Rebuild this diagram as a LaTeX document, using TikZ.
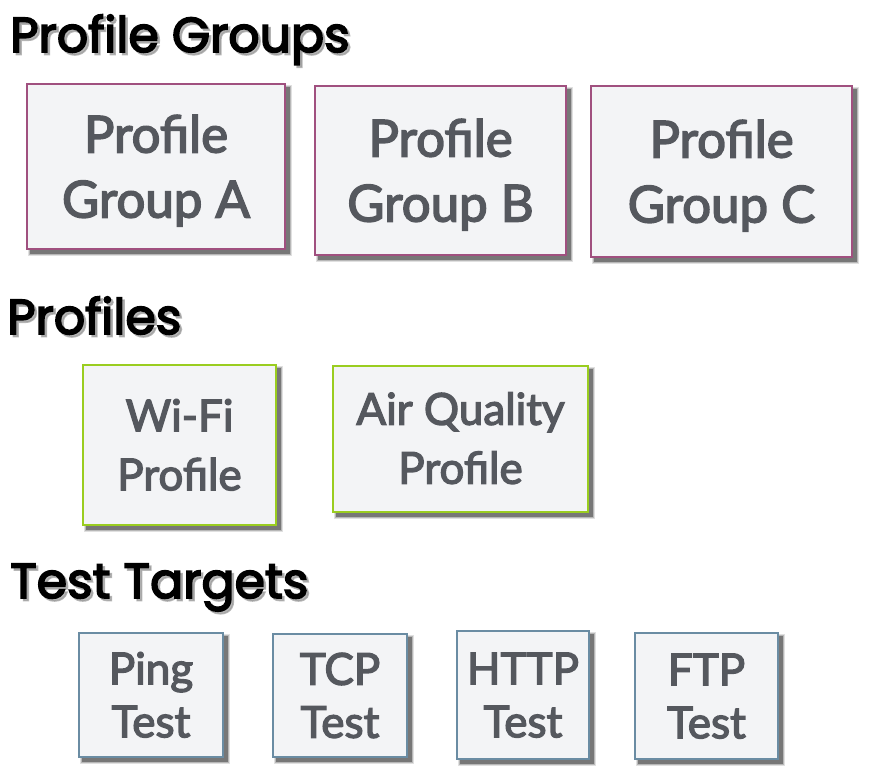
\documentclass[tikz,border=0pt]{standalone}
\usepackage{fontspec}
\setmainfont{Lato}
\newfontfamily\boxfont{Lato}[FakeBold=3]
\newfontfamily\headfont{Poppins}[FakeBold=3.5]
\usetikzlibrary{calc}
\definecolor{boxfill}{HTML}{F3F4F6}
\definecolor{txt}{HTML}{55585E}
\definecolor{purp}{HTML}{A0507F}
\definecolor{grn}{HTML}{9ACD20}
\definecolor{blu}{HTML}{6A8CA3}
\pgfdeclarelayer{bg}
\pgfsetlayers{bg,main}
\newcommand\boxshadow[1]{%
  \begin{pgfonlayer}{bg}
    \foreach \e/\o in {2/0.12,1/0.18,0/0.35}
      \fill[black,opacity=\o] ([shift={(4-\e,4-\e)}]#1.north west) rectangle ([shift={(4+\e,4+\e)}]#1.south east);
  \end{pgfonlayer}}
\tikzset{
  box/.style={draw=#1, line width=2pt, fill=boxfill, inner sep=0pt, align=center, text=txt},
  bigtext/.style={font=\boxfont\fontsize{51}{65}\selectfont, text height=102pt, text depth=0pt},
  proftext/.style={font=\boxfont\fontsize{44}{59}\selectfont, text height=90.5pt, text depth=0pt},
  testtext/.style={font=\boxfont\fontsize{44}{53}\selectfont, text height=84.5pt, text depth=0pt},
  head/.style={font=\headfont\fontsize{49}{52}\selectfont, anchor=base west, inner sep=0pt},
  headshadow/.style={head, text=black!40, opacity=0.7}
}
\begin{document}
\begin{tikzpicture}[x=1pt,y=-1pt]
\useasboundingbox (0,0) rectangle (880,783);
\begin{pgfonlayer}{bg}
  \fill[white] (0,0) rectangle (880,783);
\end{pgfonlayer}
% headings
\node[headshadow] (h1s) at (12.5,54.5) {Profile Groups};
\node[head] (h1) at (10,52) {Profile Groups};
\node[headshadow] (h2s) at (9.5,336.5) {Profiles};
\node[head] (h2) at (7,334) {Profiles};
\node[headshadow] (h3s) at (12.5,600.5) {Test Targets};
\node[head] (h3) at (10,598) {Test Targets};
% profile groups
\node[box=purp, bigtext, minimum width=258pt, minimum height=165pt] (ga) at (156,166.5) {Profile\\Group A};
\node[box=purp, bigtext, minimum width=251pt, minimum height=169pt] (gb) at (440.5,170.5) {Profile\\Group B};
\node[box=purp, bigtext, minimum width=261pt, minimum height=171pt] (gc) at (721.5,171.5) {Profile\\Group C};
% profiles
\node[box=grn, proftext, minimum width=193pt, minimum height=160pt] (wifi) at (179.5,445) {Wi-Fi\\Profile};
\node[box=grn, proftext, minimum width=255pt, minimum height=146pt] (air) at (460.5,438.5) {Air Quality\\Profile};
% tests
\node[box=blu, testtext, minimum width=144pt, minimum height=124pt] (ping) at (151,695) {Ping\\Test};
\node[box=blu, testtext, minimum width=134pt, minimum height=123pt] (tcp) at (340,695.5) {TCP\\Test};
\node[box=blu, testtext, minimum width=132pt, minimum height=128pt] (http) at (523,695) {HTTP\\Test};
\node[box=blu, testtext, minimum width=143pt, minimum height=126pt] (ftp) at (706.5,696) {FTP\\Test};
\foreach \n in {ga,gb,gc,wifi,air,ping,tcp,http,ftp} {\boxshadow{\n}}
\end{tikzpicture}
\end{document}
